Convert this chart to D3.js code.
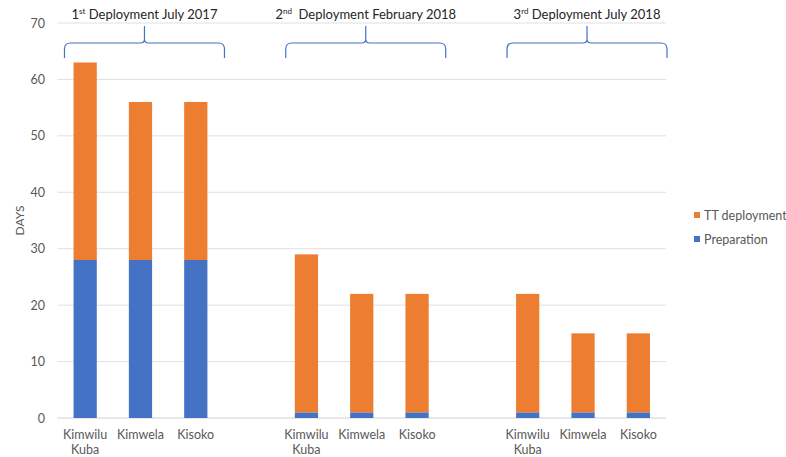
<!DOCTYPE html>
<html><head><meta charset="utf-8">
<script src="https://cdn.jsdelivr.net/npm/d3@7"></script>
<style>body{margin:0;background:#fff;} text{font-family:Lato,"Open Sans","Noto Sans",sans-serif;}</style>
</head><body><svg id="c" width="786" height="457"></svg>
<script>
const slots = ["g1a","g1b","g1c","sp1","g2a","g2b","g2c","sp2","g3a","g3b","g3c"];
const villages = [["Kimwilu","Kuba"],["Kimwela"],["Kisoko"]];
const groups = [
  {key:"g1", num:"1", sup:"st", label:" Deployment July 2017"},
  {key:"g2", num:"2", sup:"nd", label:"  Deployment February 2018"},
  {key:"g3", num:"3", sup:"rd", label:" Deployment July 2018"}
];
const preparation = [28,28,28, 1,1,1, 1,1,1];
const ttDeployment = [35,28,28, 28,21,21, 21,14,14];
const barSlots = ["g1a","g1b","g1c","g2a","g2b","g2c","g3a","g3b","g3c"];
const yTicks = [0,10,20,30,40,50,60,70];
const seriesNames = ["TT deployment","Preparation"];
const colors = {"Preparation":"#4472C4","TT deployment":"#ED7D31"};

const svg = d3.select("#c");
const mLeft = 57.5, mRight = 666, mTop = 23, mBottom = 418;
const x = d3.scaleBand().domain(slots).range([mLeft,mRight]).paddingInner(0.58).paddingOuter(0.29);
const y = d3.scaleLinear().domain([0,70]).range([mBottom,mTop]);

// gridlines
svg.append("g").selectAll("line").data(yTicks).join("line")
  .attr("x1",mLeft).attr("x2",mRight).attr("y1",d=>y(d)).attr("y2",d=>y(d))
  .attr("stroke",d=>d===0?"#d0d0d0":"#e0e0e0").attr("stroke-width",1);
svg.append("g").selectAll("text").data(yTicks).join("text")
  .attr("x",45).attr("y",d=>y(d)+4.5).attr("text-anchor","end")
  .attr("font-size",12.5).attr("fill","#595959").text(d=>d);

svg.append("text").attr("transform",`translate(24,${(mTop+mBottom)/2}) rotate(-90)`)
  .attr("text-anchor","middle").attr("font-size",12).attr("fill","#595959").text("DAYS");

// bars
const rows = barSlots.map((s,i)=>({slot:s, Preparation:preparation[i], "TT deployment":ttDeployment[i]}));
const stack = d3.stack().keys(["Preparation","TT deployment"])(rows);
svg.append("g").selectAll("g").data(stack).join("g").attr("fill",d=>colors[d.key])
  .selectAll("rect").data(d=>d).join("rect")
  .attr("x",d=>x(d.data.slot)).attr("width",x.bandwidth())
  .attr("y",d=>y(d[1])).attr("height",d=>y(d[0])-y(d[1]));

// x labels
barSlots.forEach((s,i)=>{
  const lines = villages[i%3];
  const t = svg.append("text").attr("x",x(s)+x.bandwidth()/2).attr("y",439)
    .attr("text-anchor","middle").attr("font-size",12.5).attr("fill","#595959");
  lines.forEach((l,j)=>t.append("tspan").attr("x",x(s)+x.bandwidth()/2).attr("dy",j?15:0).text(l));
});

// braces + titles
groups.forEach(g=>{
  const a = x(g.key+"a"), c = x(g.key+"c")+x.bandwidth();
  const xc = (a+c)/2 + 4;
  const x0 = xc-80, x1 = xc+80;
  const yb=58, yl=43, yt=26, r=6, rc=4;
  const p = `M${x0},${yb} L${x0},${yl+r} Q${x0},${yl} ${x0+r},${yl} L${xc-rc},${yl} Q${xc},${yl} ${xc},${yl-rc} L${xc},${yt}`+
            ` M${x1},${yb} L${x1},${yl+r} Q${x1},${yl} ${x1-r},${yl} L${xc+rc},${yl} Q${xc},${yl} ${xc},${yl-rc}`;
  svg.append("path").attr("d",p).attr("fill","none").attr("stroke","#4472C4").attr("stroke-width",1.2);
  const t = svg.append("text").attr("x",xc).attr("y",19).attr("text-anchor","middle")
    .attr("font-size",13).attr("fill","#262626").attr("xml:space","preserve");
  t.append("tspan").text(g.num);
  t.append("tspan").attr("font-size",8).attr("dy",-5).text(g.sup);
  t.append("tspan").attr("dy",5).text(g.label);
});

// legend
seriesNames.forEach((n,i)=>{
  const ly = 215 + i*24;
  svg.append("rect").attr("x",694).attr("y",ly-3).attr("width",6).attr("height",6).attr("fill",colors[n]);
  svg.append("text").attr("x",704).attr("y",ly+4.5).attr("font-size",12.5).attr("fill","#595959").text(n);
});
</script></body></html>
